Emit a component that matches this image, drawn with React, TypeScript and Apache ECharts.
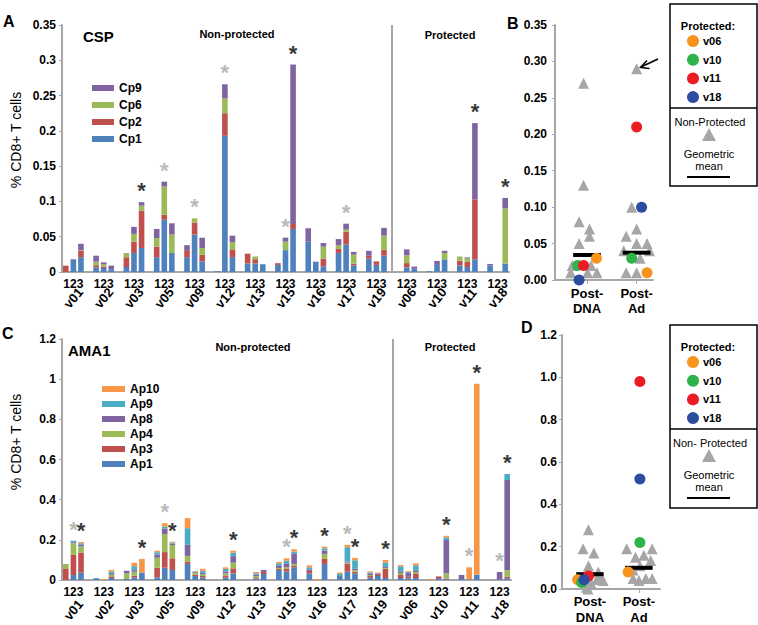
import React, { useEffect, useRef } from "react";
import * as echarts from "echarts";

const FONT = '"Liberation Sans", Arial, sans-serif';

const GROUPS = ["v01", "v02", "v03", "v05", "v09", "v12", "v13", "v15", "v16", "v17", "v19", "v06", "v10", "v11", "v18"];
const BAR_TICK = "123";

// CSP (% CD8+ T cells), per volunteer: [bar1, bar2, bar3]
const Cp1 = [[0, 0.017, 0.021], [0.0066, 0.0057, 0.004], [0.007, 0.027, 0.034], [0.021, 0.074, 0.027], [0.021, 0.053, 0.015], [0.001, 0.193, 0.021], [0.012, 0.012, 0.011], [0.010, 0.031, 0.061], [0.043, 0.0146, 0.008], [0.027, 0.039, 0.0094], [0.019, 0.010, 0.023], [0, 0.0066, 0.0047], [0.001, 0.010, 0.018], [0.0094, 0.007, 0.018], [0.0094, 0, 0.012]];
const Cp2 = [[0.009, 0, 0.009], [0.003, 0.002, 0], [0.014, 0.016, 0.053], [0.015, 0.007, 0], [0.010, 0.017, 0.0095], [0, 0.032, 0.011], [0.014, 0.006, 0], [0.0025, 0, 0.007], [0, 0, 0.011], [0.0057, 0.018, 0.0024], [0.004, 0.005, 0.0085], [0, 0.006, 0], [0, 0, 0], [0.0066, 0.0075, 0.085], [0, 0, 0]];
const Cp6 = [[0, 0, 0.001], [0.005, 0.003, 0], [0.006, 0.011, 0.007], [0.012, 0.040, 0.026], [0, 0.006, 0.0095], [0, 0.021, 0.010], [0, 0.004, 0], [0, 0.012, 0], [0, 0, 0.017], [0.005, 0.003, 0.0127], [0, 0, 0.020], [0, 0.011, 0], [0, 0, 0.009], [0.006, 0.0047, 0], [0, 0, 0.078]];
const Cp9 = [[0, 0.001, 0.009], [0.0085, 0.003, 0.005], [0, 0.010, 0.005], [0.013, 0.007, 0.016], [0.007, 0, 0.0146], [0, 0.020, 0.0095], [0, 0, 0], [0, 0.0057, 0.226], [0.019, 0, 0.005], [0.009, 0.0085, 0.004], [0.007, 0, 0.011], [0, 0.0085, 0.003], [0, 0.0057, 0.003], [0, 0.0015, 0.108], [0.002, 0, 0.015]];

// AMA1 (% CD8+ T cells), per volunteer: [bar1, bar2, bar3]
const Ap1 = [[0, 0.025, 0.037], [0.005, 0, 0.01], [0.005, 0.013, 0.037], [0.013, 0.061, 0.05], [0.08, 0.02, 0.012], [0, 0.013, 0.033], [0, 0.008, 0.03], [0.05, 0.042, 0.063], [0.033, 0, 0.08], [0.02, 0.042, 0.033], [0.012, 0.02, 0.01], [0.01, 0.008, 0.01], [0, 0.003, 0.004], [0.005, 0.003, 0.027], [0, 0.003, 0.008]];
const Ap3 = [[0.055, 0.1, 0.1], [0, 0, 0.008], [0, 0.008, 0], [0.048, 0.078, 0.058], [0.01, 0.007, 0.008], [0, 0.01, 0.025], [0, 0.006, 0.01], [0.005, 0.013, 0.007], [0.012, 0, 0.025], [0, 0.038, 0.008], [0.008, 0.005, 0.045], [0.015, 0.008, 0.02], [0, 0, 0.004], [0, 0, 0], [0, 0, 0.008]];
const Ap4 = [[0.025, 0.058, 0.03], [0, 0, 0.008], [0.028, 0.02, 0], [0.05, 0.09, 0.066], [0.03, 0.01, 0.008], [0, 0.01, 0.028], [0, 0.006, 0], [0.005, 0.008, 0.01], [0, 0, 0.025], [0, 0.007, 0.008], [0.005, 0, 0.005], [0.01, 0, 0.01], [0, 0, 0.025], [0, 0, 0], [0, 0, 0.033]];
const Ap8 = [[0, 0.005, 0.008], [0, 0, 0.008], [0.013, 0.008, 0], [0.015, 0.027, 0.008], [0.055, 0.003, 0.008], [0, 0.01, 0.033], [0, 0.006, 0.01], [0.01, 0.02, 0.053], [0.008, 0, 0.016], [0, 0.005, 0.007], [0.008, 0.008, 0.005], [0.008, 0.02, 0.008], [0, 0.012, 0.166], [0.02, 0, 0], [0, 0.037, 0.449]];
const Ap9 = [[0, 0.008, 0.008], [0.005, 0, 0.008], [0, 0.02, 0], [0.012, 0.01, 0.005], [0.083, 0.003, 0.01], [0, 0.012, 0.017], [0, 0.007, 0], [0.013, 0.013, 0.008], [0.01, 0, 0.012], [0.01, 0.071, 0.042], [0.005, 0, 0.022], [0.025, 0.005, 0.025], [0, 0, 0.013], [0, 0, 0], [0, 0, 0.03]];
const Ap10 = [[0, 0, 0.006], [0, 0.004, 0.008], [0, 0.017, 0.068], [0.008, 0.017, 0.004], [0.05, 0.002, 0.01], [0, 0.008, 0.01], [0, 0.007, 0], [0.007, 0.012, 0.012], [0.01, 0.005, 0.008], [0.007, 0.012, 0.012], [0.005, 0.004, 0.013], [0.007, 0.004, 0.01], [0.005, 0.005, 0.008], [0, 0.06, 0.95], [0, 0, 0]];

// significance asterisks: [volunteer index, bar index]
const CSP_STAR_BLACK = [[2, 2], [7, 2], [13, 2], [14, 2]];
const CSP_STAR_GRAY = [[3, 1], [4, 1], [5, 1], [7, 1], [9, 1]];
const AMA_STAR_BLACK = [[0, 2], [2, 2], [3, 2], [5, 2], [7, 2], [8, 2], [9, 2], [10, 2], [12, 2], [13, 2], [14, 2]];
const AMA_STAR_GRAY = [[0, 1], [3, 1], [7, 1], [9, 1], [13, 1], [14, 1]];

// Panel B scatter (CSP): [x position (1 = Post-DNA, 2 = Post-Ad, jittered), value]
const B_NONPROT = [[0.93, 0.27], [0.93, 0.13], [0.84, 0.08], [1.05, 0.07], [1.05, 0.06], [0.84, 0.05], [0.70, 0.02], [1.08, 0.02], [0.67, 0.01], [1.01, 0.01], [1.20, 0.01],
  [2.0, 0.29], [1.90, 0.10], [1.79, 0.06], [2.0, 0.07], [1.74, 0.04], [2.0, 0.05], [2.21, 0.05], [2.07, 0.03], [2.26, 0.04], [1.79, 0.01], [2.0, 0.01]];
const B_V06 = [[1.19, 0.03], [2.21, 0.01]];
const B_V10 = [[0.81, 0.02], [1.90, 0.03]];
const B_V11 = [[0.93, 0.02], [2.0, 0.21]];
const B_V18 = [[0.84, 0.0], [2.10, 0.10]];
const B_GEOMEAN = [0.0343, 0.0375];

// Panel D scatter (AMA1)
const D_NONPROT = [[0.97, 0.28], [0.86, 0.19], [1.08, 0.17], [0.97, 0.11], [1.17, 0.08], [1.20, 0.055], [1.14, 0.045], [1.27, 0.04], [1.02, 0.03], [0.93, 0.008], [0.96, 0.0],
  [1.75, 0.19], [2.27, 0.19], [2.10, 0.16], [1.93, 0.15], [2.24, 0.135], [2.02, 0.11], [1.88, 0.09], [1.88, 0.05], [2.0, 0.04], [2.14, 0.05], [2.27, 0.05]];
const D_V06 = [[0.75, 0.044], [1.78, 0.08]];
const D_V10 = [[0.83, 0.031], [2.02, 0.22]];
const D_V11 = [[0.97, 0.062], [2.02, 0.98]];
const D_V18 = [[0.88, 0.044], [2.02, 0.52]];
const D_GEOMEAN = [0.07, 0.1];

const C_BLUE = "#4F81BD", C_RED = "#C0504D", C_GREEN = "#9BBB59", C_PURPLE = "#8064A2", C_CYAN = "#4BACC6", C_ORANGE = "#F79646";
const P_ORANGE = "#F7941D", P_GREEN = "#2DB34A", P_RED = "#EC1C24", P_BLUE = "#2B4C9F";
const AXIS = "#A6A6A6";

const NSLOT = GROUPS.length * 4 - 1;
const SLOTS: string[] = [];
for (let i = 0; i < NSLOT; i++) SLOTS.push(i % 4 === 3 ? "gap" + i : GROUPS[i >> 2] + "-" + ((i % 4) + 1));

function flat(tri: number[][]) {
  const out: (number | null)[] = [];
  tri.forEach((t, g) => {
    out.push(...t);
    if (g < tri.length - 1) out.push(null);
  });
  return out;
}

function stars(list: number[][], arrays: number[][][], color: string, xi: number, yi: number) {
  return {
    type: "scatter",
    xAxisIndex: xi,
    yAxisIndex: yi,
    symbolSize: 1,
    itemStyle: { color: "rgba(0,0,0,0)" },
    z: 5,
    label: {
      show: true,
      formatter: "*",
      position: "top",
      distance: 0,
      offset: [0, 19],
      color,
      fontSize: 22,
      fontWeight: "bold",
      fontFamily: FONT,
    },
    labelLayout: { hideOverlap: false },
    data: list.map(([g, b]) => [g * 4 + b, arrays.reduce((s, a) => s + a[g][b], 0)]),
  };
}

function barSeries(name: string, tri: number[][], color: string, xi: number, yi: number, stack: string, extra: any = {}) {
  return {
    type: "bar",
    name,
    xAxisIndex: xi,
    yAxisIndex: yi,
    stack,
    barCategoryGap: "26%",
    itemStyle: { color },
    data: flat(tri),
    ...extra,
  };
}

const sepLine = {
  silent: true,
  symbol: ["none", "none"],
  label: { show: false },
  lineStyle: { color: AXIS, width: 2, type: "solid" },
  data: [{ xAxis: SLOTS[43] }],
};

function catAxes(grid: number, vMargin: number) {
  return [
    {
      type: "category",
      gridIndex: grid,
      data: SLOTS,
      axisTick: { show: false },
      axisLine: { lineStyle: { color: AXIS, width: 2 } },
      axisLabel: {
        interval: 0,
        formatter: (_v: string, i: number) => (i % 4 === 1 ? BAR_TICK : ""),
        fontWeight: "bold",
        fontSize: 12,
        color: "#000",
        margin: 6,
        fontFamily: FONT,
      },
    },
    {
      type: "category",
      gridIndex: grid,
      data: SLOTS,
      position: "bottom",
      offset: 16,
      axisTick: { show: false },
      axisLine: { show: false },
      axisLabel: {
        interval: 0,
        rotate: 50,
        align: "center",
        verticalAlign: "middle",
        formatter: (_v: string, i: number) => (i % 4 === 1 ? GROUPS[i >> 2] : ""),
        fontWeight: "bold",
        fontSize: 13,
        color: "#000",
        margin: vMargin,
        fontFamily: FONT,
      },
    },
  ];
}

function valAxis(grid: number, max: number, interval: number, digits: number | null, margin: number) {
  return {
    type: "value",
    gridIndex: grid,
    min: 0,
    max,
    interval,
    splitLine: { show: false },
    axisLine: { show: true, lineStyle: { color: AXIS, width: 2 } },
    axisTick: { show: true, length: 3, lineStyle: { color: AXIS } },
    axisLabel: {
      fontWeight: "bold",
      fontSize: 12,
      color: "#000",
      margin,
      fontFamily: FONT,
      ...(digits !== null ? { formatter: (v: number) => v.toFixed(digits) } : {}),
    },
  };
}

function scatterXAxis(grid: number, min: number, max: number, margin: number, lh: number) {
  return {
    type: "value",
    gridIndex: grid,
    min,
    max,
    splitLine: { show: false },
    axisLine: { show: true, lineStyle: { color: AXIS, width: 2 } },
    axisTick: { show: true, customValues: [1, 2], length: 4, lineStyle: { color: AXIS } },
    axisLabel: {
      customValues: [1, 2],
      formatter: (v: number) => (Math.round(v) === 1 ? "Post-\nDNA" : "Post-\nAd"),
      fontWeight: "bold",
      fontSize: 13,
      lineHeight: lh,
      color: "#000",
      margin,
      fontFamily: FONT,
    },
  };
}

function scatterSeries(xi: number, yi: number, non: number[][], v06: number[][], v10: number[][], v11: number[][], v18: number[][], gm: number[]) {
  const dot = (data: number[][], color: string) => ({
    type: "scatter", xAxisIndex: xi, yAxisIndex: yi, symbol: "circle", symbolSize: 11,
    itemStyle: { color, opacity: 1 }, z: 4, data,
  });
  const mean = (c: number, m: number) => ({
    type: "line", xAxisIndex: xi, yAxisIndex: yi, symbol: "none", z: 3,
    lineStyle: { color: "#000", width: 4 }, data: [[c - 0.28, m], [c + 0.28, m]],
  });
  return [
    { type: "scatter", xAxisIndex: xi, yAxisIndex: yi, symbol: "triangle", symbolSize: 11, itemStyle: { color: "#A6A6A6", opacity: 1 }, z: 2, data: non },
    mean(1, gm[0]),
    mean(2, gm[1]),
    dot(v06, P_ORANGE), dot(v10, P_GREEN), dot(v11, P_RED), dot(v18, P_BLUE),
  ];
}

function legendBox(top: number, div: number, bottom: number, nonProtLabel: string) {
  const L = 670, R = 757, cx = 710;
  const rows: [string, string, number][] = [["v06", P_ORANGE, 0], ["v10", P_GREEN, 1], ["v11", P_RED, 2], ["v18", P_BLUE, 3]];
  const els: any[] = [
    { type: "rect", shape: { x: L, y: top, width: R - L, height: bottom - top }, style: { fill: "#fff", stroke: "#000", lineWidth: 1.5 } },
    { type: "line", shape: { x1: L, y1: div, x2: R, y2: div }, style: { stroke: "#000", lineWidth: 1.5 } },
    { type: "text", x: cx - 2, y: top + 22, style: { text: "Protected:", font: `bold 11px ${FONT}`, fill: "#000", textAlign: "center", textVerticalAlign: "middle" } },
  ];
  rows.forEach(([n, c, i]) => {
    const y = top + 37 + i * 18.7;
    els.push({ type: "circle", shape: { cx: 693, cy: y, r: 6 }, style: { fill: c } });
    els.push({ type: "text", x: 703, y, style: { text: n, font: `bold 11px ${FONT}`, fill: "#000", textAlign: "left", textVerticalAlign: "middle" } });
  });
  els.push({ type: "text", x: cx, y: div + 14, style: { text: nonProtLabel, font: `11px ${FONT}`, fill: "#000", textAlign: "center", textVerticalAlign: "middle" } });
  els.push({ type: "polygon", shape: { points: [[cx - 1, div + 20], [cx - 8, div + 33], [cx + 6, div + 33]] }, style: { fill: "#A6A6A6" } });
  els.push({ type: "text", x: cx - 1, y: div + 46, style: { text: "Geometric", font: `11px ${FONT}`, fill: "#000", textAlign: "center", textVerticalAlign: "middle" } });
  els.push({ type: "text", x: cx - 1, y: div + 58, style: { text: "mean", font: `11px ${FONT}`, fill: "#000", textAlign: "center", textVerticalAlign: "middle" } });
  els.push({ type: "line", shape: { x1: 687, y1: div + 69, x2: 730, y2: div + 69 }, style: { stroke: "#000", lineWidth: 2 } });
  return els;
}

function txt(x: number, y: number, text: string, font: string, align = "left", extra: any = {}) {
  return { type: "text", x, y, ...extra, style: { text, font, fill: "#000", textAlign: align, textVerticalAlign: "middle" } };
}

export default function App() {
  const ref = useRef<HTMLDivElement>(null);
  useEffect(() => {
    if (!ref.current) return;
    const chart = echarts.init(ref.current, undefined, { renderer: "svg" });
    const cspArrays = [Cp1, Cp2, Cp6, Cp9];
    const amaArrays = [Ap1, Ap3, Ap4, Ap8, Ap9, Ap10];
    const option: any = {
      animation: false,
      textStyle: { fontFamily: FONT },
      grid: [
        { left: 62, top: 25, width: 447, height: 247 },
        { left: 62, top: 339, width: 449, height: 241 },
        { left: 555, top: 25, width: 98, height: 255 },
        { left: 562, top: 335, width: 98, height: 256 },
      ],
      xAxis: [
        ...catAxes(0, 10),
        ...catAxes(1, 14),
        scatterXAxis(2, 0.354, 2.33, 6, 15),
        scatterXAxis(3, 0.43, 2.43, 4, 16),
      ],
      yAxis: [
        valAxis(0, 0.35, 0.05, null, 6),
        valAxis(1, 1.2, 0.2, null, 6),
        valAxis(2, 0.35, 0.05, 2, 8),
        valAxis(3, 1.2, 0.2, 1, 5),
      ],
      legend: [
        {
          orient: "vertical", left: 92, top: 81, padding: 0, itemWidth: 22, itemHeight: 6, itemGap: 3, icon: "rect",
          textStyle: { fontWeight: "bold", fontSize: 12, color: "#000", lineHeight: 14, fontFamily: FONT },
          data: ["Cp9", "Cp6", "Cp2", "Cp1"],
        },
        {
          orient: "vertical", left: 102, top: 382, padding: 0, itemWidth: 23, itemHeight: 6, itemGap: 1, icon: "rect",
          textStyle: { fontWeight: "bold", fontSize: 12, color: "#000", lineHeight: 14, fontFamily: FONT },
          data: ["Ap10", "Ap9", "Ap8", "Ap4", "Ap3", "Ap1"],
        },
      ],
      series: [
        barSeries("Cp1", Cp1, C_BLUE, 0, 0, "csp", { markLine: sepLine }),
        barSeries("Cp2", Cp2, C_RED, 0, 0, "csp"),
        barSeries("Cp6", Cp6, C_GREEN, 0, 0, "csp"),
        barSeries("Cp9", Cp9, C_PURPLE, 0, 0, "csp"),
        stars(CSP_STAR_BLACK, cspArrays, "#000", 0, 0),
        stars(CSP_STAR_GRAY, cspArrays, "#A6A6A6", 0, 0),
        barSeries("Ap1", Ap1, C_BLUE, 2, 1, "ama", { markLine: sepLine }),
        barSeries("Ap3", Ap3, C_RED, 2, 1, "ama"),
        barSeries("Ap4", Ap4, C_GREEN, 2, 1, "ama"),
        barSeries("Ap8", Ap8, C_PURPLE, 2, 1, "ama"),
        barSeries("Ap9", Ap9, C_CYAN, 2, 1, "ama"),
        barSeries("Ap10", Ap10, C_ORANGE, 2, 1, "ama"),
        stars(AMA_STAR_BLACK, amaArrays, "#000", 2, 1),
        stars(AMA_STAR_GRAY, amaArrays, "#A6A6A6", 2, 1),
        ...scatterSeries(4, 2, B_NONPROT, B_V06, B_V10, B_V11, B_V18, B_GEOMEAN),
        ...scatterSeries(5, 3, D_NONPROT, D_V06, D_V10, D_V11, D_V18, D_GEOMEAN),
      ],
      graphic: [
        txt(3, 21, "A", `bold 16px ${FONT}`),
        txt(507, 23, "B", `bold 16px ${FONT}`),
        txt(2, 333, "C", `bold 16px ${FONT}`),
        txt(521, 327, "D", `bold 16px ${FONT}`),
        txt(83, 36, "CSP", `bold 15px ${FONT}`),
        txt(68, 350, "AMA1", `bold 15px ${FONT}`),
        txt(237, 34, "Non-protected", `bold 11px ${FONT}`, "center"),
        txt(450, 35, "Protected", `bold 11px ${FONT}`, "center"),
        txt(253, 347, "Non-protected", `bold 11px ${FONT}`, "center"),
        txt(450, 347, "Protected", `bold 11px ${FONT}`, "center"),
        txt(16, 140, "% CD8+ T cells", `14px ${FONT}`, "center", { rotation: Math.PI / 2 }),
        txt(16, 442, "% CD8+ T cells", `14px ${FONT}`, "center", { rotation: Math.PI / 2 }),
        { type: "line", shape: { x1: 658, y1: 59, x2: 641, y2: 67 }, style: { stroke: "#000", lineWidth: 1.5 } },
        { type: "polyline", shape: { points: [[647, 60.5], [640.5, 67.5], [649.5, 68.5]] }, style: { stroke: "#000", lineWidth: 1.5, fill: "none" } },
        ...legendBox(4, 108, 186, "Non-Protected"),
        ...legendBox(325, 429, 508, "Non- Protected"),
      ],
    };
    chart.setOption(option);
    return () => chart.dispose();
  }, []);
  return <div ref={ref} style={{ position: "absolute", left: 0, top: 0, width: 758, height: 625, background: "#fff" }} />;
}
